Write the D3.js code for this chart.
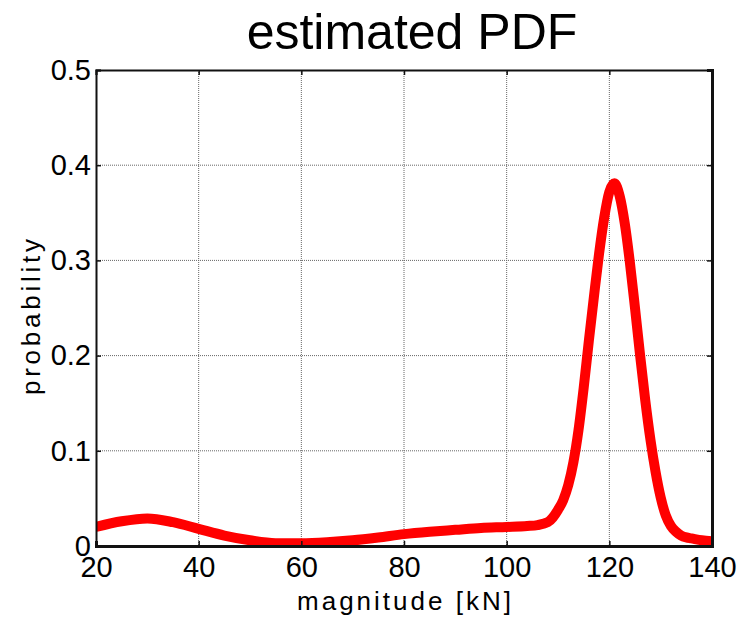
<!DOCTYPE html>
<html>
<head>
<meta charset="utf-8">
<script src="https://cdn.jsdelivr.net/npm/d3@7"></script>
<style>
  body { margin: 0; background: #fff; }
  svg text { font-family: 'Liberation Sans', Arial, sans-serif; }
</style>
</head>
<body>
<div id="chart"></div>
<script>
// magnitude [kN] and estimated probability
var magnitude = [20, 25, 30, 35, 40, 45, 50, 55, 60, 65, 70, 75, 80, 85, 90, 95, 100, 104, 106, 108, 109, 110,
  111, 112, 113, 114, 115, 116, 117, 118, 119, 120, 121, 122, 123, 124, 125, 126, 127, 128, 129, 130,
  131, 132, 133, 134, 135, 136, 138, 140]
var probability = [0.020, 0.026, 0.029, 0.025, 0.018, 0.011, 0.006, 0.003, 0.003, 0.004, 0.006, 0.009, 0.0125, 0.015, 0.017, 0.019, 0.020, 0.021, 0.022, 0.025, 0.030, 0.038,
  0.048, 0.064, 0.088, 0.122, 0.166, 0.215, 0.262, 0.307, 0.345, 0.372, 0.381, 0.368, 0.339, 0.298, 0.250, 0.200, 0.153, 0.112, 0.078, 0.051,
  0.032, 0.021, 0.015, 0.011, 0.009, 0.008, 0.006, 0.005]

var x_ticks = [20, 40, 60, 80, 100, 120, 140]
var y_ticks = [0, 0.1, 0.2, 0.3, 0.4, 0.5]
var y_tick_labels = ['0', '0.1', '0.2', '0.3', '0.4', '0.5']

var w = 742
var h = 619
var plot_left = 96
var plot_right = 712
var plot_top = 70
var plot_bottom = 546

var svg = d3.select('#chart').append('svg')
  .attr('width', w)
  .attr('height', h)

var x = d3.scaleLinear().domain([20, 140]).range([plot_left, plot_right])
var y = d3.scaleLinear().domain([0, 0.5]).range([plot_bottom, plot_top])

// grid
var grid = svg.append('g')
grid.selectAll('line.gx').data(x_ticks.slice(1, -1)).enter().append('line')
  .attr('x1', function (d) { return x(d) }).attr('x2', function (d) { return x(d) })
  .attr('y1', plot_top).attr('y2', plot_bottom)
  .attr('stroke', '#666').attr('stroke-width', 1).attr('stroke-dasharray', '1,1')
grid.selectAll('line.gy').data(y_ticks.slice(1, -1)).enter().append('line')
  .attr('y1', function (d) { return y(d) }).attr('y2', function (d) { return y(d) })
  .attr('x1', plot_left).attr('x2', plot_right)
  .attr('stroke', '#666').attr('stroke-width', 1).attr('stroke-dasharray', '1,1')

// the curve, clipped at the box like matlab does
svg.append('clipPath').attr('id', 'plot_clip')
  .append('rect').attr('x', plot_left).attr('y', plot_top).attr('width', plot_right - plot_left).attr('height', plot_bottom - plot_top)

var line = d3.line()
  .x(function (d, i) { return x(magnitude[i]) })
  .y(function (d) { return y(d) })
  .curve(d3.curveMonotoneX)

svg.append('path')
  .datum(probability)
  .attr('clip-path', 'url(#plot_clip)')
  .attr('d', line)
  .attr('fill', 'none')
  .attr('stroke', '#ff0000')
  .attr('stroke-width', 10)
  .attr('stroke-linejoin', 'round')

// box + inward ticks
var x_axis = d3.axisBottom(x).tickValues(x_ticks).tickSize(-5).tickPadding(10).tickFormat(d3.format('d'))
var y_axis = d3.axisLeft(y).tickValues(y_ticks).tickSize(-5).tickPadding(5)
  .tickFormat(function (d, i) { return y_tick_labels[i] })

var gx = svg.append('g').attr('transform', 'translate(0,' + plot_bottom + ')').call(x_axis)
var gy = svg.append('g').attr('transform', 'translate(' + plot_left + ',0)').call(y_axis)
var gx_top = svg.append('g').attr('transform', 'translate(0,' + plot_top + ')').call(d3.axisTop(x).tickValues(x_ticks).tickSize(-5).tickFormat(''))
var gy_right = svg.append('g').attr('transform', 'translate(' + plot_right + ',0)').call(d3.axisRight(y).tickValues(y_ticks).tickSize(-5).tickFormat(''))

;[gx, gy, gx_top, gy_right].forEach(function (g) {
  g.select('.domain').attr('stroke', '#111').attr('stroke-width', 2)
  g.selectAll('.tick line').attr('stroke', '#111').attr('stroke-width', 1.5)
})
gx.select('.domain').attr('stroke-width', 3)
gy_right.select('.domain').attr('stroke-width', 3)

gx.selectAll('.tick text')
  .style('font-size', '29px')
  .attr('fill', '#000')
gy.selectAll('.tick text')
  .style('font-size', '29px')
  .attr('fill', '#000')

// labels
svg.append('text').text('estimated PDF')
  .attr('x', 412)
  .attr('y', 49)
  .attr('text-anchor', 'middle')
  .style('font-size', '50px')

svg.append('text').text('magnitude [kN]')
  .attr('x', 404)
  .attr('y', 610)
  .attr('text-anchor', 'middle')
  .attr('textLength', 214)
  .attr('lengthAdjust', 'spacing')
  .style('font-size', '26px')

svg.append('text').text('probability')
  .attr('transform', 'translate(40,317) rotate(-90)')
  .attr('text-anchor', 'middle')
  .attr('textLength', 156)
  .attr('lengthAdjust', 'spacing')
  .style('font-size', '26px')
</script>
</body>
</html>
